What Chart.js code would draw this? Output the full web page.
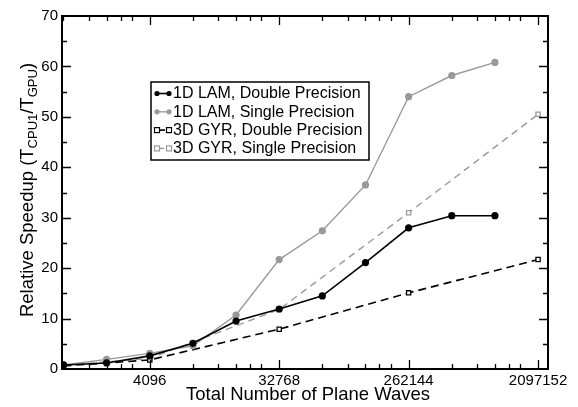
<!DOCTYPE html>
<html>
<head>
<meta charset="utf-8">
<script src="https://cdn.jsdelivr.net/npm/chart.js@4"></script>
<style>
  html, body { margin: 0; padding: 0; background: #fff; }
  #wrap { width: 578px; height: 407px; }
</style>
</head>
<body>
<div id="wrap"><canvas id="myChart" width="578" height="407"></canvas></div>
<script>
// plane wave counts
const lamWaves = [1024, 2048, 4096, 8192, 16384, 32768, 65536, 131072, 262144, 524288, 1048576];
const gyrWaves = [1024, 4096, 32768, 262144, 2097152];

// relative speedups
const lamDouble = [0.8, 1.2, 2.6, 5.1, 9.5, 11.9, 14.5, 21.1, 28.0, 30.4, 30.4];
const lamSingle = [0.8, 1.9, 3.1, 4.6, 10.7, 21.7, 27.4, 36.5, 54.0, 58.2, 60.8];
const gyrDouble = [0.6, 1.8, 7.9, 15.1, 21.7];
const gyrSingle = [0.7, 2.1, 11.8, 31.0, 50.5];

const seriesLabels = ['1D LAM, Double Precision', '1D LAM, Single Precision',
                      '3D GYR, Double Precision', '3D GYR, Single Precision'];

// axis ticks
const xTicks = [4096, 32768, 262144, 2097152];
const yTicks = [0, 10, 20, 30, 40, 50, 60, 70];

const FONT = '"Liberation Sans", Arial, Helvetica, sans-serif';
const GREY = '#999999';

const pts = (xs, ys) => xs.map((x, i) => ({ x: x, y: ys[i] }));

// frame, inward ticks, titles and legend
const decorations = {
  id: 'decorations',
  afterDraw(chart) {
    const ctx = chart.ctx;
    const a = chart.chartArea;
    const xs = chart.scales.x;
    const ys = chart.scales.y;
    ctx.save();
    ctx.strokeStyle = '#000';

    // ticks
    ctx.lineWidth = 1.3;
    ctx.beginPath();
    for (let k = 512; k <= 2097152; k *= 8) {
      for (let m = 1; m <= 6; m++) {
        const v = k * m;
        if (v < xs.min || v > xs.max) continue;
        const px = Math.round(xs.getPixelForValue(v)) + 0.5;
        const len = m === 1 ? 9 : 5;
        ctx.moveTo(px, a.bottom); ctx.lineTo(px, a.bottom - len);
        ctx.moveTo(px, a.top); ctx.lineTo(px, a.top + len);
      }
    }
    for (let v = 5; v < 70; v += 5) {
      const py = Math.round(ys.getPixelForValue(v)) + 0.5;
      const len = v % 10 === 0 ? 9 : 5;
      ctx.moveTo(a.left, py); ctx.lineTo(a.left + len, py);
      ctx.moveTo(a.right, py); ctx.lineTo(a.right - len, py);
    }
    ctx.stroke();

    // frame
    ctx.lineWidth = 2;
    ctx.strokeRect(a.left, a.top, a.right - a.left, a.bottom - a.top);

    // x title
    ctx.fillStyle = '#000';
    ctx.font = '18.5px ' + FONT;
    ctx.textAlign = 'center';
    ctx.textBaseline = 'alphabetic';
    ctx.fillText('Total Number of Plane Waves', (a.left + a.right) / 2 + 3, 400);

    // y title with subscripts
    const parts = [
      ['Relative Speedup (T', false], ['CPU1', true], ['/T', false], ['GPU', true], [')', false]
    ];
    const big = '18.5px ' + FONT, small = '13px ' + FONT;
    let total = 0;
    parts.forEach(p => { ctx.font = p[1] ? small : big; total += ctx.measureText(p[0]).width; });
    ctx.translate(33, 190);
    ctx.rotate(-Math.PI / 2);
    ctx.textAlign = 'left';
    let cx = -total / 2;
    parts.forEach(p => {
      ctx.font = p[1] ? small : big;
      ctx.fillText(p[0], cx, p[1] ? 4 : 0);
      cx += ctx.measureText(p[0]).width;
    });
    ctx.setTransform(1, 0, 0, 1, 0, 0);

    // legend
    const lx = 151, ly = 82, lw = 218, lh = 78;
    ctx.fillStyle = '#fff';
    ctx.fillRect(lx, ly, lw, lh);
    ctx.lineWidth = 1.5;
    ctx.strokeStyle = '#000';
    ctx.strokeRect(lx, ly, lw, lh);
    ctx.font = '16px ' + FONT;
    ctx.textBaseline = 'middle';
    chart.data.datasets.forEach((ds, i) => {
      const y = 93.5 + i * 18.3;
      ctx.strokeStyle = ds.borderColor;
      ctx.lineWidth = ds.borderWidth;
      ctx.setLineDash(ds.borderDash || []);
      ctx.beginPath();
      ctx.moveTo(157, y); ctx.lineTo(169, y);
      ctx.stroke();
      ctx.setLineDash([]);
      [157, 169].forEach(mx => {
        if (ds.pointStyle === 'rect') {
          ctx.fillStyle = '#fff';
          ctx.fillRect(mx - 2.5, y - 2.5, 5, 5);
          ctx.lineWidth = 1.2;
          ctx.strokeRect(mx - 2.5, y - 2.5, 5, 5);
        } else {
          ctx.fillStyle = ds.pointBackgroundColor;
          ctx.beginPath();
          ctx.arc(mx, y, 2.6, 0, Math.PI * 2);
          ctx.fill();
        }
      });
      ctx.fillStyle = '#000';
      ctx.fillText(ds.label, 173, y + 0.5);
    });
    ctx.restore();
  }
};

const ctx = document.getElementById('myChart').getContext('2d');
new Chart(ctx, {
  type: 'scatter',
  data: {
    datasets: [
      {
        label: seriesLabels[0], data: pts(lamWaves, lamDouble), showLine: true,
        borderColor: '#000', borderWidth: 1.6, pointStyle: 'circle',
        pointRadius: 3.6, pointBackgroundColor: '#000', pointBorderWidth: 0
      },
      {
        label: seriesLabels[1], data: pts(lamWaves, lamSingle), showLine: true,
        borderColor: GREY, borderWidth: 1.4, pointStyle: 'circle',
        pointRadius: 3.6, pointBackgroundColor: GREY, pointBorderWidth: 0
      },
      {
        label: seriesLabels[2], data: pts(gyrWaves, gyrDouble), showLine: true,
        borderColor: '#000', borderWidth: 1.6, borderDash: [8, 5], pointStyle: 'rect',
        pointRadius: 3, pointBackgroundColor: '#fff', pointBorderColor: '#000', pointBorderWidth: 1.3
      },
      {
        label: seriesLabels[3], data: pts(gyrWaves, gyrSingle), showLine: true,
        borderColor: GREY, borderWidth: 1.4, borderDash: [7, 5], pointStyle: 'rect',
        pointRadius: 3, pointBackgroundColor: '#fff', pointBorderColor: GREY, pointBorderWidth: 1.3
      }
    ]
  },
  options: {
    responsive: false,
    animation: false,
    layout: { padding: { top: 16, right: 30, left: 0, bottom: 0 } },
    plugins: { legend: { display: false }, tooltip: { enabled: false } },
    scales: {
      x: {
        type: 'logarithmic',
        min: 1000,
        max: 2460000,
        grid: { display: false, drawTicks: false },
        border: { display: false },
        afterBuildTicks: s => { s.ticks = xTicks.map(v => ({ value: v })); },
        afterFit: s => { s.height = 38; },
        ticks: {
          autoSkip: false, maxRotation: 0, padding: 3,
          color: '#000', font: { family: FONT, size: 15 },
          callback: v => String(v)
        }
      },
      y: {
        min: 0,
        max: 70,
        grid: { display: false, drawTicks: false },
        border: { display: false },
        afterBuildTicks: s => { s.ticks = yTicks.map(v => ({ value: v })); },
        afterFit: s => { s.width = 62; },
        ticks: {
          padding: 4, color: '#000', font: { family: FONT, size: 15 }
        }
      }
    }
  },
  plugins: [decorations]
});
</script>
</body>
</html>
